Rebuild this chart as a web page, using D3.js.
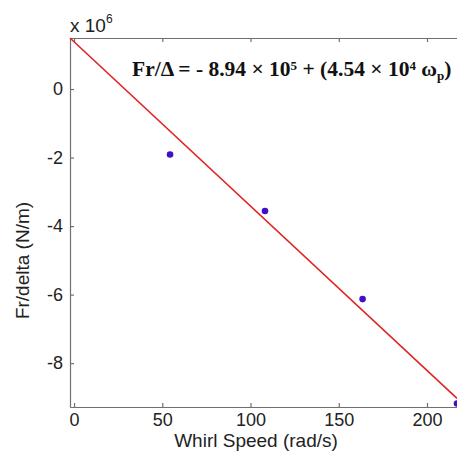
<!DOCTYPE html>
<html>
<head>
  <meta charset="utf-8">
  <style type="text/css">
    body { margin: 0; background: #fff; }
    svg { display: block; font-family: "Liberation Sans", Arial, sans-serif; }
    .axis path, .axis line { stroke: #707070; stroke-width: 1.2px; }
    .axis text { font-size: 18px; fill: #222; }
    .label { font-size: 19px; fill: #222; }
    .eqn { font-family: "Liberation Serif", "Times New Roman", serif; font-weight: bold; font-size: 21.5px; fill: #111; }
  </style>
</head>
<body>
  <script src="https://d3js.org/d3.v7.min.js"></script>
  <script>
    // measured points
    var speed = [54.4, 108.2, 163.5, 217];
    var stiffness = [-1.91e6, -3.56e6, -6.13e6, -9.18e6];
    // fitted line, two end points
    var fitSpeed = [-2.3, 217];
    var fitStiff = [1.49e6, -9.03e6];
    var xTicks = [0, 50, 100, 150, 200];
    var yTicks = [0, -2e6, -4e6, -6e6, -8e6];

    var margin = {top: 38, right: 0, bottom: 48, left: 70};
    var width = 457 - margin.left - margin.right;
    var height = 455 - margin.top - margin.bottom;

    var x = d3.scaleLinear().domain([-2.3, 217]).range([0, width]);
    var y = d3.scaleLinear().domain([-9.28e6, 1.49e6]).range([height, 0]);

    var svg = d3.select("body").append("svg")
      .attr("width", 457)
      .attr("height", 455)
      .append("g")
      .attr("transform", "translate(" + margin.left + "," + margin.top + ")");

    // axes, MATLAB style ticks pointing inward
    var xAxis = d3.axisBottom(x).tickValues(xTicks).tickSizeInner(-4).tickSizeOuter(0).tickPadding(6);
    var yAxis = d3.axisLeft(y).tickValues(yTicks).tickSizeInner(-4).tickSizeOuter(0).tickPadding(7)
      .tickFormat(function(d) { return d3.format("d")(d / 1e6).replace("−", "-"); });
    var xTop = d3.axisTop(x).tickValues(xTicks).tickSizeInner(-4).tickSizeOuter(0).tickFormat("");

    svg.append("g").attr("class", "x axis")
      .attr("transform", "translate(0," + height + ")")
      .call(xAxis);
    svg.append("g").attr("class", "y axis").call(yAxis);
    svg.append("g").attr("class", "axis").call(xTop);

    // fit line
    var fit = fitSpeed.map(function(s, i) { return [s, fitStiff[i]]; });
    svg.append("path")
      .datum(fit)
      .attr("d", d3.line().x(function(d) { return x(d[0]); }).y(function(d) { return y(d[1]); }))
      .attr("fill", "none")
      .attr("stroke", "#e02424")
      .attr("stroke-width", 1.6);

    // points
    svg.selectAll(".pt")
      .data(speed)
    .enter().append("circle")
      .attr("class", "pt")
      .attr("cx", function(d) { return x(d); })
      .attr("cy", function(d, i) { return y(stiffness[i]); })
      .attr("r", 3.3)
      .attr("fill", "#4010c8");

    // exponent label
    var ex = svg.append("text").attr("class", "label").attr("x", 0).attr("y", -6);
    ex.append("tspan").text("x 10");
    ex.append("tspan").attr("dy", -9).style("font-size", "12px").text("6");

    // equation
    var eq = svg.append("text").attr("class", "eqn").attr("x", 62).attr("y", 38);
    eq.append("tspan").text("Fr/Δ = - 8.94 × 10");
    eq.append("tspan").attr("dy", -6).style("font-size", "13px").text("5");
    eq.append("tspan").attr("dy", 6).text(" + (4.54 × 10");
    eq.append("tspan").attr("dy", -6).style("font-size", "13px").text("4");
    eq.append("tspan").attr("dy", 6).text(" ω");
    eq.append("tspan").attr("dy", 4).style("font-size", "13px").text("p");
    eq.append("tspan").attr("dy", -4).text(")");

    // axis titles
    svg.append("text").attr("class", "label")
      .attr("x", 186).attr("y", height + 40)
      .attr("text-anchor", "middle")
      .text("Whirl Speed (rad/s)");
    svg.append("text").attr("class", "label")
      .attr("transform", "translate(-41," + (height / 2 + 38) + ") rotate(-90)")
      .attr("text-anchor", "middle")
      .text("Fr/delta (N/m)");
  </script>
</body>
</html>
